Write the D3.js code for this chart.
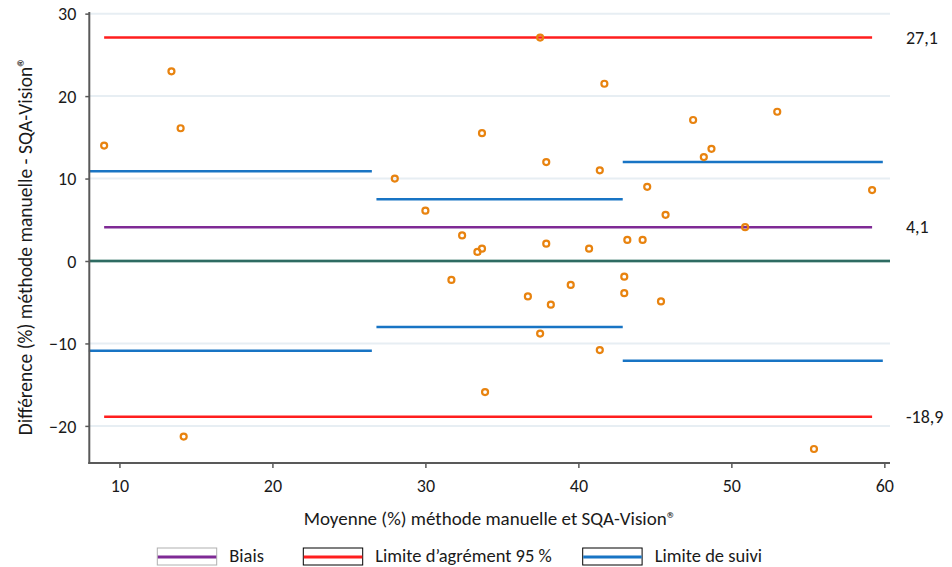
<!DOCTYPE html>
<html>
<head>
<meta charset="utf-8">
<script src="https://cdn.jsdelivr.net/npm/d3@7"></script>
<style>
  html, body { margin: 0; padding: 0; background: #fff; }
  svg { display: block; font-family: Carlito, Calibri, Lato, sans-serif; }
</style>
</head>
<body>
<svg id="chart" width="952" height="567"></svg>
<script>
// ---- data ----
const meanValues = [9.0, 13.4, 14.0, 14.2, 28.0, 30.0, 31.7, 32.4, 33.4, 33.7, 33.7, 33.9, 36.7, 37.5, 37.5, 37.9, 37.9, 38.2, 39.5, 40.7, 41.4, 41.4, 41.7, 43.0, 43.0, 43.2, 44.2, 44.5, 45.4, 45.7, 47.5, 48.2, 48.7, 50.9, 53.0, 55.4, 59.2];
const diffValues = [14.0, 23.0, 16.1, -21.3, 10.0, 6.1, -2.3, 3.1, 1.1, 1.5, 15.5, -15.9, -4.3, 27.1, -8.8, 12.0, 2.1, -5.3, -2.9, 1.5, 11.0, -10.8, 21.5, -1.9, -3.9, 2.55, 2.55, 9.0, -4.9, 5.6, 17.1, 12.6, 13.6, 4.1, 18.1, -22.8, 8.6];
const bias = 4.1;
const loaUpper = 27.1;
const loaLower = -18.9;
const refExtent = [9.0, 59.2];
const followStart = [8.0, 26.8, 42.9];
const followEnd = [26.5, 42.9, 59.9];
const followUpper = [10.9, 7.5, 12.0];
const followLower = [-10.9, -8.0, -12.1];
const xTicks = [10, 20, 30, 40, 50, 60];
const yTicks = [-20, -10, 0, 10, 20, 30];
const rightLabels = ["27,1", "4,1", "-18,9"];
const legendLabels = ["Biais", "Limite d\u2019agrément 95 %", "Limite de suivi"];
const xTitle = "Moyenne (%) méthode manuelle et SQA-Vision\u00AE";
const yTitle = "Différence (%) méthode manuelle - SQA-Vision\u00AE";

// ---- layout ----
const svg = d3.select("#chart");
const pLeft = 89.3, pRight = 890, pTop = 12, pBottom = 463;
const x = d3.scaleLinear().domain([8.03, 60.37]).range([pLeft, pRight]);
const y = d3.scaleLinear().domain([-24.5, 30.2]).range([pBottom, pTop]);

const C = {
  purple: "#7F2A95",
  red: "#FF1E1E",
  blue: "#1874C4",
  teal: "#2E6B62",
  orange: "#E8830F",
  grid: "#E7EEF3",
  axis: "#595959",
  text: "#1a1a1a"
};

// gridlines
svg.append("g").selectAll("line").data(yTicks).join("line")
  .attr("x1", pLeft).attr("x2", pRight)
  .attr("y1", d => y(d)).attr("y2", d => y(d))
  .attr("stroke", C.grid).attr("stroke-width", 2);

// zero line
svg.append("line")
  .attr("x1", pLeft).attr("x2", pRight)
  .attr("y1", y(0)).attr("y2", y(0))
  .attr("stroke", "#9dbdb6").attr("stroke-width", 3.5);
svg.append("line")
  .attr("x1", pLeft).attr("x2", pRight)
  .attr("y1", y(0)).attr("y2", y(0))
  .attr("stroke", C.teal).attr("stroke-width", 2);

// follow-up limits
const segs = followStart.map((s, i) => ({ s, e: followEnd[i], u: followUpper[i], l: followLower[i] }));
const fg = svg.append("g");
segs.forEach(d => {
  [d.u, d.l].forEach(v => {
    fg.append("line")
      .attr("x1", x(d.s)).attr("x2", x(d.e))
      .attr("y1", y(v)).attr("y2", y(v))
      .attr("stroke", C.blue).attr("stroke-width", 2.5);
  });
});

// limits of agreement and bias
[[loaUpper, C.red], [loaLower, C.red], [bias, C.purple]].forEach(([v, col]) => {
  svg.append("line")
    .attr("x1", x(refExtent[0])).attr("x2", x(refExtent[1]))
    .attr("y1", y(v)).attr("y2", y(v))
    .attr("stroke", col).attr("stroke-width", 2.5);
});

// axes
const xAxis = d3.axisBottom(x).tickValues(xTicks).tickSize(5).tickPadding(11).tickFormat(d3.format("d"));
const gx = svg.append("g").attr("transform", `translate(0,${pBottom})`).call(xAxis);
const yAxis = d3.axisLeft(y).tickValues(yTicks).tickSize(4).tickPadding(9).tickFormat(d3.format("d"));
const gy = svg.append("g").attr("transform", `translate(${pLeft},0)`).call(yAxis);
[gx, gy].forEach(g => {
  g.select(".domain").remove();
  g.selectAll(".tick line").attr("stroke", C.axis).attr("stroke-width", 1.5);
  g.selectAll(".tick text").attr("fill", C.text).style("font-size", "18px").style("font-family", "Carlito, Calibri, Lato, sans-serif");
});
gy.selectAll(".tick text").attr("dy", "0.35em");
// axis lines
svg.append("line").attr("x1", pLeft).attr("x2", pLeft).attr("y1", pTop).attr("y2", pBottom + 1)
  .attr("stroke", C.axis).attr("stroke-width", 2);
svg.append("line").attr("x1", pLeft - 1).attr("x2", pRight).attr("y1", pBottom).attr("y2", pBottom)
  .attr("stroke", C.axis).attr("stroke-width", 2);

// points
svg.append("g").selectAll("circle").data(meanValues.map((m, i) => [m, diffValues[i]])).join("circle")
  .attr("cx", d => x(d[0])).attr("cy", d => y(d[1]))
  .attr("r", 3).attr("fill", "none")
  .attr("stroke", C.orange).attr("stroke-width", 2.2);

// right labels
[loaUpper, bias, loaLower].forEach((v, i) => {
  svg.append("text").attr("x", 906).attr("y", y(v)).attr("dy", "0.35em")
    .attr("fill", C.text).style("font-size", "18px").text(rightLabels[i]);
});

// titles
svg.append("text").attr("x", 490).attr("y", 525)
  .attr("text-anchor", "middle").attr("fill", C.text).style("font-size", "19px").text(xTitle);
svg.append("text").attr("transform", `translate(32,246) rotate(-90)`)
  .attr("text-anchor", "middle").attr("fill", C.text).style("font-size", "19.5px").text(yTitle);

// legend
const legendBoxX = [157.3, 303.3, 582.7];
const legendColors = [C.purple, C.red, C.blue];
const legendBorders = ["#b0b0b0", "#000", "#000"];
legendLabels.forEach((lab, i) => {
  const g = svg.append("g").attr("transform", `translate(${legendBoxX[i]},548)`);
  g.append("rect").attr("width", 59.4).attr("height", 17).attr("fill", "#fff")
    .attr("stroke", legendBorders[i]).attr("stroke-width", 1);
  g.append("line").attr("x1", 0.5).attr("x2", 59).attr("y1", 9).attr("y2", 9)
    .attr("stroke", legendColors[i]).attr("stroke-width", 3);
  g.append("text").attr("x", 72).attr("y", 14)
    .attr("fill", C.text).style("font-size", "18.5px").text(lab);
});
</script>
</body>
</html>
